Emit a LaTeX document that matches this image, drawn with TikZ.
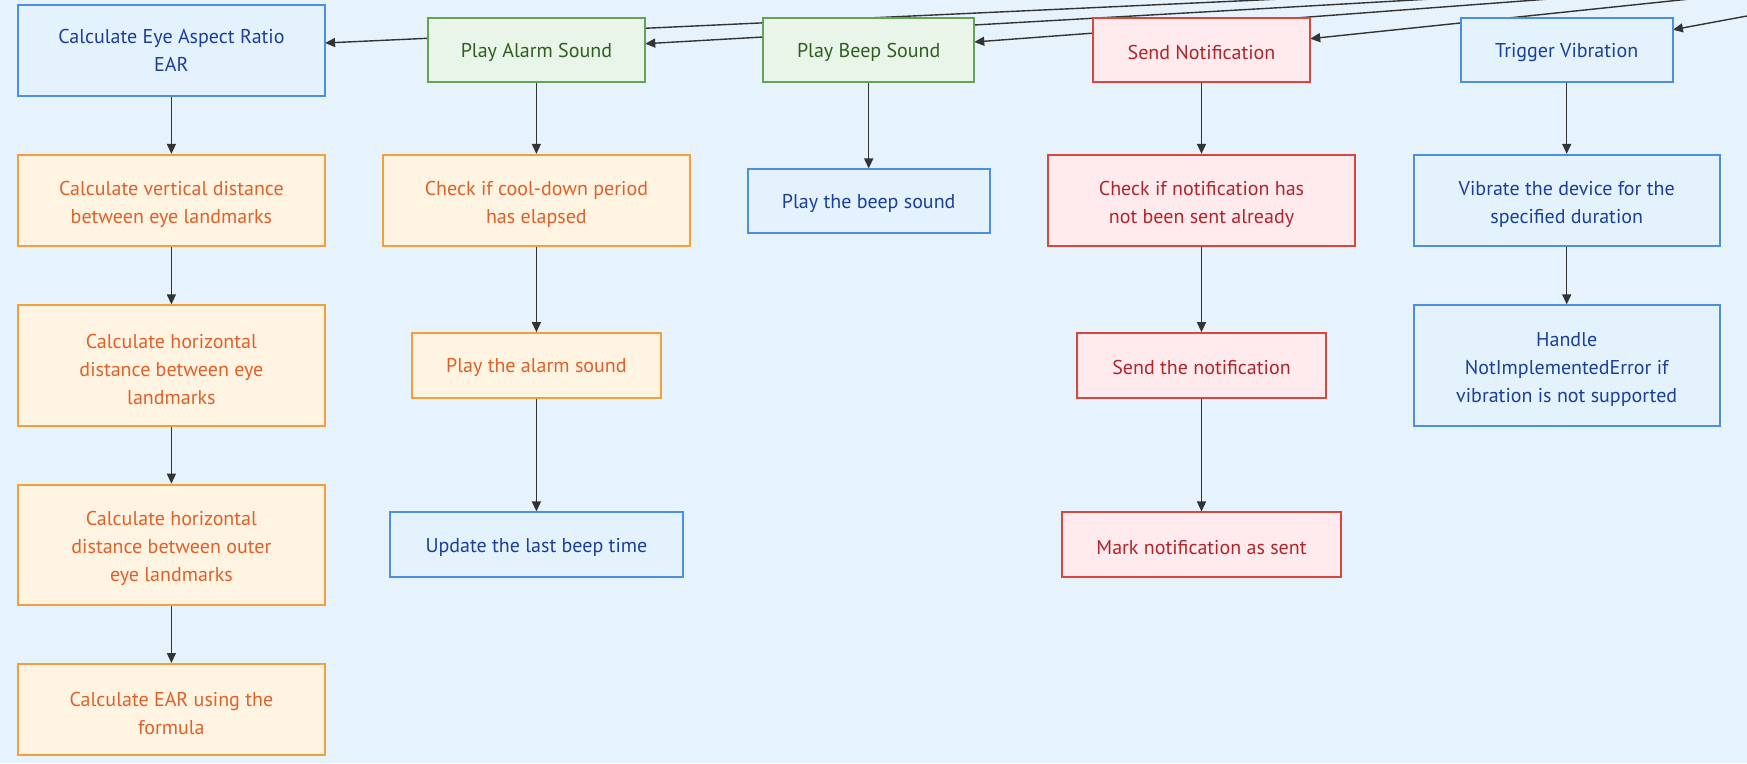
\documentclass[tikz,border=0pt]{standalone}
\usepackage{fontspec}
\setmainfont{PT Sans}
\usetikzlibrary{arrows.meta}
\newcommand{\myfs}{\rule{0pt}{21.4pt}}
\definecolor{bg}{HTML}{E6F3FC}
\definecolor{edgec}{HTML}{333333}
\definecolor{bluefill}{HTML}{E3F2FD}
\definecolor{bluestroke}{HTML}{4A8FE2}
\definecolor{bluetext}{HTML}{1A3F9C}
\definecolor{greenfill}{HTML}{EAF5E9}
\definecolor{greenstroke}{HTML}{62A456}
\definecolor{greentext}{HTML}{2E5E1F}
\definecolor{orangefill}{HTML}{FFF3E2}
\definecolor{orangestroke}{HTML}{F4A03A}
\definecolor{orangetext}{HTML}{E0602A}
\definecolor{redfill}{HTML}{FFEBEE}
\definecolor{redstroke}{HTML}{D9463E}
\definecolor{redtext}{HTML}{B0242A}
\begin{document}
\begin{tikzpicture}[x=1pt,y=-1pt,
  box/.style={draw, line width=2pt, inner sep=0pt, align=center,
    font=\fontsize{20}{28}\selectfont,
    execute at begin node={\rule{0pt}{19pt}}},
  multi/.style={execute at begin node={}},
  bluebox/.style={box, draw=bluestroke, fill=bluefill, text=bluetext},
  greenbox/.style={box, draw=greenstroke, fill=greenfill, text=greentext},
  orangebox/.style={box, draw=orangestroke, fill=orangefill, text=orangetext},
  redbox/.style={box, draw=redstroke, fill=redfill, text=redtext},
  arr/.style={draw=edgec, line width=1.4pt, -{Triangle[length=10pt,width=9pt]}}
]
\fill[bg] (0,0) rectangle (1747,763);
\useasboundingbox (0,0) rectangle (1747,763);

% off-canvas sources of the top edges
\coordinate (s1) at (1477,-10);
\coordinate (s2) at (1590,-10);
\coordinate (s3) at (1670,-10);
\coordinate (s4) at (1776,-10);
\coordinate (s5) at (1800,6.2);

\begin{scope}
\clip (0,0) rectangle (1747,763);
\path (171.4,50.2) node[minimum width=307pt, minimum height=91.3pt, inner sep=0pt] (earP) {};
\path (536.4,50.3) node[minimum width=217.3pt, minimum height=64pt, inner sep=0pt] (alarmP) {};
\path (868.7,50.2) node[minimum width=210.7pt, minimum height=63.7pt, inner sep=0pt] (beepP) {};
\path (1201.5,50.2) node[minimum width=217pt, minimum height=63.7pt, inner sep=0pt] (notifP) {};
\path (1566.7,50.2) node[minimum width=212pt, minimum height=63.7pt, inner sep=0pt] (vibP) {};
\draw[arr] (s1) -- ([yshift=7.2pt]earP.east);
\draw[arr] (s2) -- ([yshift=6.6pt]alarmP.east);
\draw[arr] (s3) -- ([yshift=8.2pt]beepP.east);
\draw[arr] (s4) -- ([yshift=11.5pt]notifP.east);
\draw[arr] (s5) -- ([yshift=20.5pt]vibP.east);
\end{scope}

% top row
\node[bluebox, multi, minimum width=307pt, minimum height=91.3pt] (ear) at (171.4,50.2) {Calculate Eye Aspect Ratio\\EAR};
\node[greenbox, minimum width=217.3pt, minimum height=64pt] (alarm) at (536.4,50.3) {Play Alarm Sound};
\node[greenbox, minimum width=210.7pt, minimum height=63.7pt] (beep) at (868.7,50.2) {Play Beep Sound};
\node[redbox, minimum width=217pt, minimum height=63.7pt] (notif) at (1201.5,50.2) {Send Notification};
\node[bluebox, minimum width=212pt, minimum height=63.7pt] (vib) at (1566.7,50.2) {Trigger Vibration};

% column 1
\node[orangebox, multi, minimum width=307pt, minimum height=91.3pt] (vert) at (171.4,200.5) {\myfs Calculate vertical distance\\between eye landmarks};
\node[orangebox, multi, minimum width=307pt, minimum height=120.3pt] (horiz) at (171.4,365.5) {\myfs Calculate horizontal\\distance between eye\\landmarks};
\node[orangebox, multi, minimum width=307pt, minimum height=120.3pt] (outer) at (171.4,544.8) {\myfs Calculate horizontal\\distance between outer\\eye landmarks};
\node[orangebox, multi, minimum width=307pt, minimum height=91.4pt] (formula) at (171.4,709.7) {\myfs Calculate EAR using the\\formula};

% column 2
\node[orangebox, multi, minimum width=306.4pt, minimum height=91.3pt] (cool) at (536.4,200.5) {\myfs Check if cool-down period\\has elapsed};
\node[orangebox, minimum width=248.4pt, minimum height=64.7pt] (playalarm) at (536.4,365.5) {Play the alarm sound};
\node[bluebox, minimum width=293pt, minimum height=64.7pt] (update) at (536.4,544.8) {Update the last beep time};

% column 3
\node[bluebox, minimum width=241.8pt, minimum height=63.5pt] (playbeep) at (868.7,201.2) {Play the beep sound};

% column 4
\node[redbox, multi, minimum width=306.4pt, minimum height=91.3pt] (checknotif) at (1201.5,200.5) {\myfs Check if notification has\\not been sent already};
\node[redbox, minimum width=248.4pt, minimum height=64.7pt] (sendnotif) at (1201.5,365.5) {Send the notification};
\node[redbox, minimum width=279.7pt, minimum height=64.7pt] (mark) at (1201.5,544.8) {Mark notification as sent};

% column 5
\node[bluebox, multi, minimum width=306.4pt, minimum height=91.3pt] (vibrate) at (1566.7,200.5) {\myfs Vibrate the device for the\\specified duration};
\node[bluebox, multi, minimum width=306.4pt, minimum height=120.3pt] (handle) at (1566.7,365.5) {\myfs Handle\\NotImplementedError if\\vibration is not supported};

% vertical connectors
\draw[arr] (ear) -- (vert);
\draw[arr] (vert) -- (horiz);
\draw[arr] (horiz) -- (outer);
\draw[arr] (outer) -- (formula);
\draw[arr] (alarm) -- (cool);
\draw[arr] (cool) -- (playalarm);
\draw[arr] (playalarm) -- (update);
\draw[arr] (beep) -- (playbeep);
\draw[arr] (notif) -- (checknotif);
\draw[arr] (checknotif) -- (sendnotif);
\draw[arr] (sendnotif) -- (mark);
\draw[arr] (vib) -- (vibrate);
\draw[arr] (vibrate) -- (handle);
\end{tikzpicture}
\end{document}
